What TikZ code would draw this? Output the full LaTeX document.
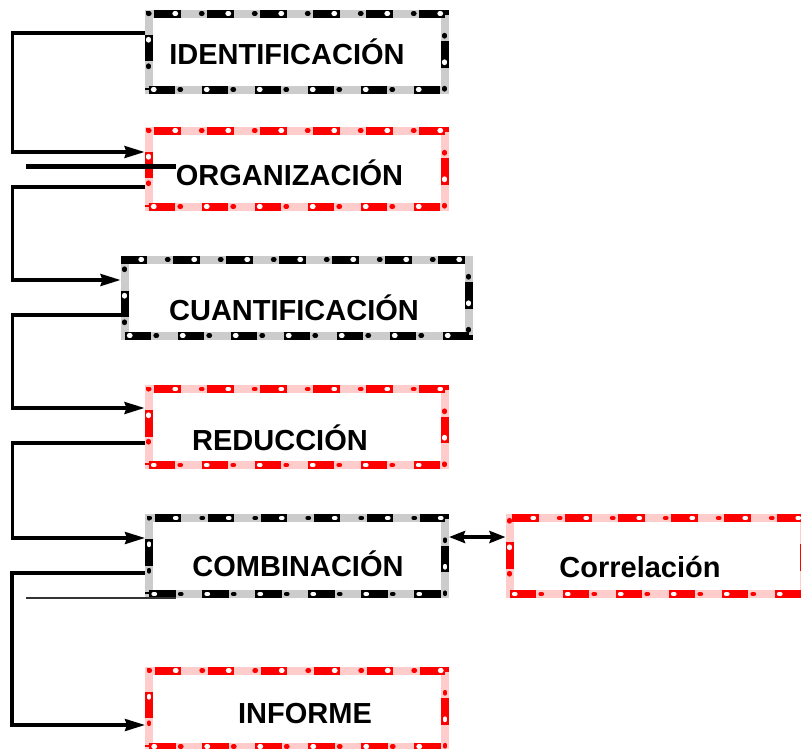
\documentclass[tikz,border=0pt]{standalone}
\usepackage{fontspec}
\setmainfont{Liberation Sans}
\usetikzlibrary{calc,arrows.meta}
\usetikzlibrary{positioning}
\definecolor{fc-gray}{HTML}{CCCCCC}
\definecolor{fc-red}{HTML}{FF0000}
\definecolor{fc-pink}{HTML}{FFCCCC}
\definecolor{fc-line}{HTML}{333333}

\begin{document}
\begin{tikzpicture}[
    x=1pt, y=-1pt,
    >={Stealth[length=20pt, width=12pt, inset=2pt]},
    % Framed steps: two-tone dashed border with dots
    framebase/.style={line width=8pt, inner sep=0pt, minimum width=296pt, minimum height=76pt},
    dots/.style={line width=4.2pt, line cap=round, dash pattern=on 1.5pt off 51.5pt},
    blackbox/.style={framebase, draw=fc-gray,
      postaction={draw=black, dash pattern=on 26.5pt off 26.5pt},
      postaction={draw=white, dots, dash phase=48.5pt},
      postaction={draw=black, dots, dash phase=22pt}},
    redbox/.style={framebase, draw=fc-pink,
      postaction={draw=fc-red, dash pattern=on 26.5pt off 26.5pt},
      postaction={draw=white, dots, dash phase=48.5pt},
      postaction={draw=fc-red, dots, dash phase=22pt}},
    labelstyle/.style={font=\fontsize{29pt}{34pt}\selectfont\bfseries, anchor=base, inner sep=0pt},
    flow/.style={->, line width=3.2pt}
  ]
  \useasboundingbox (0,0) rectangle (801,748);

  % =========================================================================
  % STEPS
  % =========================================================================
  \node[blackbox] (ident) at (296.5,51.5) {};
  \node[redbox] (organ) at (296.5,168.5) {};
  \node[blackbox, minimum width=344pt] (cuant) at (296.5,297.5) {};
  \node[redbox] (reduc) at (296.5,427) {};
  \node[blackbox] (combi) at (297,556) {};
  \node[redbox, minimum width=294.5pt] (corre) at (656.75,556) {};
  \node[redbox] (inform) at (297,708.5) {};

  \node[labelstyle] (identt) at (287,64) {IDENTIFICACIÓN};
  \node[labelstyle] (organt) at (289.5,185) {ORGANIZACIÓN};
  \node[labelstyle] (cuantt) at (294,320.7) {CUANTIFICACIÓN};
  \node[labelstyle] (reduct) at (280,450.7) {REDUCCIÓN};
  \node[labelstyle] (combit) at (298,576.7) {COMBINACIÓN};
  \node[labelstyle] (corret) at (640,577) {Correlación};
  \node[labelstyle] (informt) at (305,723.3) {INFORME};

  % =========================================================================
  % FLOW ALONG THE LEFT RAIL
  % =========================================================================
  \draw[flow] ([yshift=18.5pt]ident.west) -- ++(-132,0) |- ([yshift=16.5pt]organ.west);
  \draw[flow] ([yshift=-18.5pt]organ.west) -- ++(-132,0) |- ([yshift=17.5pt]cuant.west);
  \draw[flow] ([yshift=-17.5pt]cuant.west) -- ++(-108,0) |- ([yshift=19pt]reduc.west);
  \draw[flow] ([yshift=-16pt]reduc.west) -- ++(-132,0) |- ([yshift=18pt]combi.west);
  \draw[flow] ([yshift=-17pt]combi.west) -- ++(-133,0) |- ([yshift=-16.5pt]inform.west);

  % Link to the side step
  \draw[<->, line width=4pt, >={Stealth[length=16pt, width=12pt, inset=2pt]}] ([yshift=19pt]combi.east) -- ([yshift=19pt]corre.west);

  % Loose strokes
  \draw[line width=5pt] (26,166) -- (175.5,166);
  \draw[line width=2pt, fc-line] (26,598.3) -- (175.5,598.3);

\end{tikzpicture}
\end{document}
